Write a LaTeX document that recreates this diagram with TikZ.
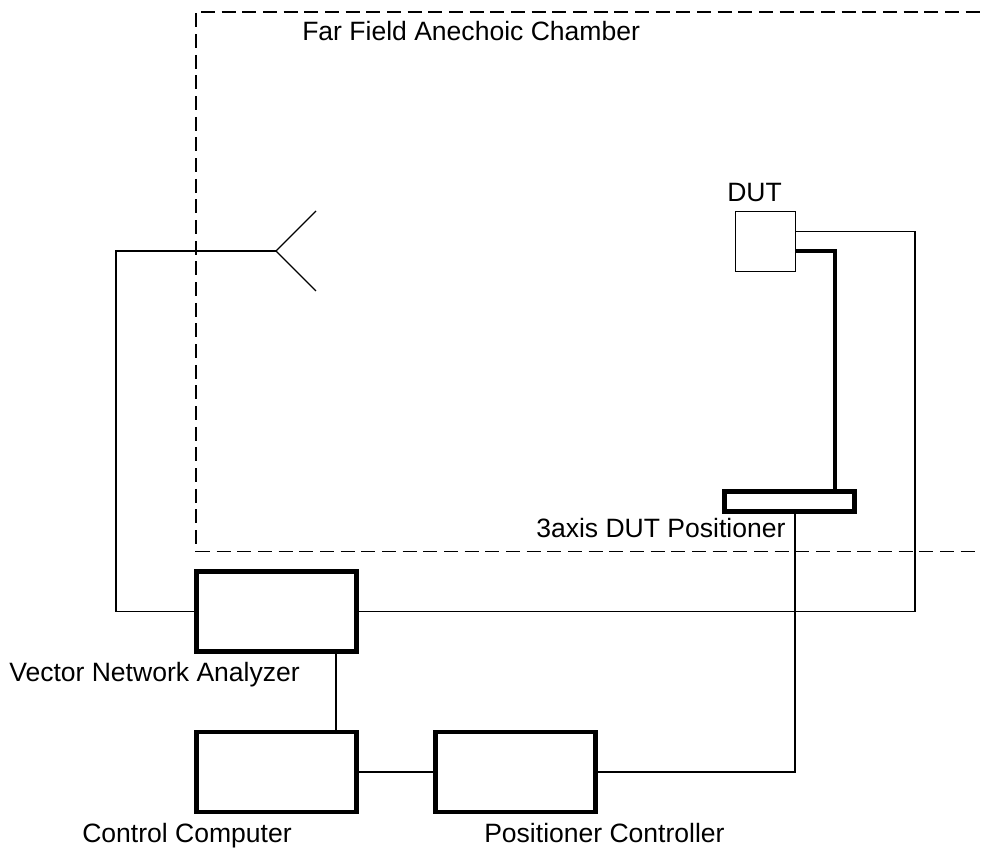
\documentclass[tikz,border=0pt]{standalone}
\usepackage{fontspec}
\setmainfont{Liberation Sans}
\tikzset{
  x=0.75pt,y=-0.75pt,
  box/.style={draw,line width=3.4pt,inner sep=0pt},
  wire/.style={line width=1pt},
  chamber/.style={line width=1pt,dash pattern=on 10.5pt off 5pt},
  lbl/.style={inner sep=0pt,anchor=base west,font=\fontsize{19.9pt}{22pt}\selectfont},
}
\begin{document}
\begin{tikzpicture}
\useasboundingbox (0,0) rectangle (983,848);
\coordinate (cTR) at (983,12);
\coordinate (cTS) at (201,12);
\coordinate (cLS) at (196,13.5);
\coordinate (cBL) at (196,551.5);
\coordinate (cBR) at (980,551.5);
\draw[chamber] (cTS) -- (cTR);
\draw[chamber] (cLS) -- (cLS |- cBL);
\draw[chamber] (cBL) -- (cBR);
\node[lbl] (t1) at (302,41) {Far Field Anechoic Chamber};
\node[lbl] (t2) at (727,202) {DUT};
\node[lbl] (t3) at (536,538) {3axis DUT Positioner};
\node[lbl] (t4) at (9,682) {Vector Network Analyzer};
\node[lbl] (t5) at (82,842) {Control Computer};
\node[lbl] (t6) at (484,842) {Positioner Controller};
\node[draw,wire,minimum width=45pt,minimum height=45pt,inner sep=0pt] (dut) at (765.5,241.5) {};
\node[box,minimum width=97.5pt,minimum height=15pt] (pos) at (789.5,501.5) {};
\node[box,minimum width=120pt,minimum height=60pt] (vna) at (276.5,611.5) {};
\node[box,minimum width=120pt,minimum height=60pt] (cc) at (276.5,772) {};
\node[box,minimum width=120pt,minimum height=60pt] (pc) at (515.5,772) {};
\coordinate (ant) at (276,251);
\coordinate (a1) at (316,211);
\coordinate (a2) at (316,291);
\coordinate (lw1) at (116,251);
\coordinate (lw2) at (116,611.5);
\coordinate (rw1) at (915,611.5);
\coordinate (rw2) at (915,231.5);
\coordinate (st1) at (835,251);
\coordinate (st2) at (835,491);
\coordinate (pw) at (795,772);
\coordinate (vcx) at (336,650);
\draw[wire] (a1) -- (ant) -- (a2);
\draw[wire] (ant) -- (lw1) -- (lw2) -- (vna.west);
\draw[wire] (vna.east) -- (rw1) -- (rw2) -- (rw2 -| dut.east);
\draw[line width=3.4pt] (st1 -| dut.east) -- (st1) -- (st2);
\draw[wire] (vcx |- vna.south) -- (vcx |- cc.north);
\draw[wire] (cc.east) -- (pc.west);
\draw[wire] (pc.east) -- (pw) -- (pw |- pos.south);
\end{tikzpicture}
\end{document}
